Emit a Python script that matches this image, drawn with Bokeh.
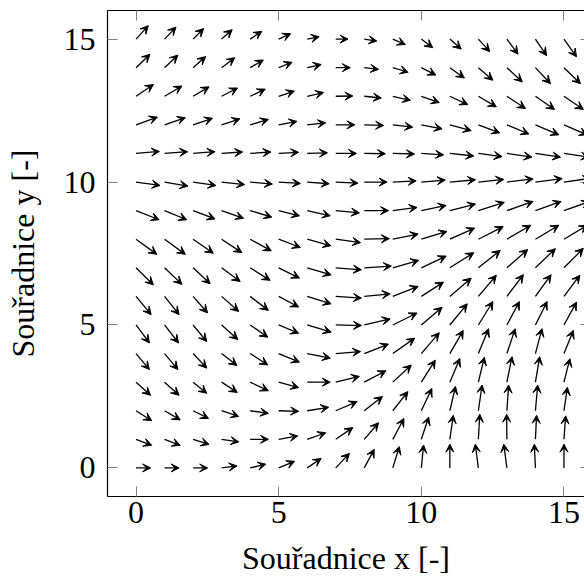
from bokeh.plotting import figure
from bokeh.models import (ColumnDataSource, Arrow, VeeHead, LinearAxis,
                          FixedTicker, Range1d)
from bokeh.embed import file_html
from bokeh.resources import INLINE

# grid of arrow origins
x_coords = list(range(16))
# rows listed from top (y=15) to bottom (y=0)
y_rows = [15, 14, 13, 12, 11, 10, 9, 8, 7, 6, 5, 4, 3, 2, 1, 0]

# x-components (one row per y in y_rows, columns x=0..15)
u_rows = [
    [0.43, 0.40, 0.37, 0.37, 0.41, 0.42, 0.42, 0.43, 0.44, 0.44, 0.40, 0.40, 0.40, 0.39, 0.39, 0.44],
    [0.49, 0.47, 0.44, 0.46, 0.46, 0.47, 0.49, 0.51, 0.50, 0.54, 0.51, 0.51, 0.51, 0.54, 0.53, 0.58],
    [0.61, 0.61, 0.56, 0.56, 0.53, 0.55, 0.57, 0.60, 0.60, 0.62, 0.63, 0.63, 0.63, 0.65, 0.67, 0.68],
    [0.75, 0.73, 0.68, 0.64, 0.64, 0.64, 0.65, 0.67, 0.68, 0.70, 0.73, 0.75, 0.75, 0.77, 0.82, 0.82],
    [0.82, 0.81, 0.77, 0.74, 0.73, 0.70, 0.71, 0.73, 0.74, 0.76, 0.78, 0.84, 0.83, 0.88, 0.88, 0.88],
    [0.84, 0.82, 0.80, 0.81, 0.78, 0.76, 0.77, 0.78, 0.80, 0.82, 0.84, 0.90, 0.89, 0.92, 0.94, 0.94],
    [0.81, 0.78, 0.77, 0.77, 0.76, 0.73, 0.81, 0.83, 0.85, 0.85, 0.87, 0.90, 0.91, 0.92, 0.90, 0.90],
    [0.73, 0.73, 0.71, 0.71, 0.74, 0.76, 0.83, 0.87, 0.88, 0.89, 0.90, 0.87, 0.87, 0.84, 0.82, 0.82],
    [0.61, 0.61, 0.60, 0.65, 0.70, 0.73, 0.84, 0.90, 0.95, 0.91, 0.87, 0.84, 0.77, 0.73, 0.70, 0.68],
    [0.53, 0.51, 0.51, 0.60, 0.64, 0.70, 0.84, 0.90, 0.91, 0.89, 0.78, 0.75, 0.63, 0.58, 0.55, 0.56],
    [0.47, 0.49, 0.48, 0.57, 0.62, 0.70, 0.84, 0.90, 0.91, 0.85, 0.73, 0.61, 0.51, 0.44, 0.41, 0.44],
    [0.47, 0.47, 0.48, 0.54, 0.62, 0.73, 0.81, 0.87, 0.85, 0.77, 0.63, 0.47, 0.36, 0.29, 0.23, 0.33],
    [0.51, 0.51, 0.48, 0.55, 0.64, 0.70, 0.81, 0.83, 0.76, 0.65, 0.49, 0.35, 0.21, 0.18, 0.15, 0.21],
    [0.55, 0.55, 0.54, 0.60, 0.64, 0.70, 0.75, 0.75, 0.64, 0.53, 0.37, 0.20, 0.13, 0.06, 0.08, 0.12],
    [0.55, 0.55, 0.56, 0.60, 0.64, 0.67, 0.65, 0.60, 0.50, 0.39, 0.26, 0.12, 0.05, -0.01, 0.04, 0.06],
    [0.51, 0.51, 0.51, 0.54, 0.55, 0.56, 0.49, 0.48, 0.35, 0.23, 0.08, 0.00, -0.11, -0.11, -0.04, 0.00],
]

# y-components
v_rows = [
    [0.47, 0.42, 0.37, 0.33, 0.27, 0.19, 0.08, 0.00, -0.07, -0.19, -0.30, -0.35, -0.44, -0.53, -0.58, -0.62],
    [0.47, 0.44, 0.39, 0.35, 0.27, 0.19, 0.11, 0.00, -0.06, -0.16, -0.26, -0.36, -0.44, -0.50, -0.56, -0.56],
    [0.41, 0.36, 0.33, 0.29, 0.25, 0.18, 0.13, 0.01, -0.06, -0.14, -0.22, -0.29, -0.37, -0.43, -0.46, -0.46],
    [0.27, 0.25, 0.23, 0.21, 0.19, 0.12, 0.07, 0.00, -0.02, -0.08, -0.14, -0.20, -0.28, -0.32, -0.35, -0.35],
    [0.07, 0.06, 0.06, 0.05, 0.05, 0.04, 0.02, 0.00, -0.01, -0.02, -0.05, -0.09, -0.11, -0.13, -0.13, -0.13],
    [-0.12, -0.14, -0.12, -0.09, -0.07, -0.05, -0.06, -0.04, 0.00, 0.04, 0.07, 0.08, 0.09, 0.11, 0.12, 0.13],
    [-0.32, -0.32, -0.29, -0.27, -0.23, -0.18, -0.18, -0.08, 0.00, 0.11, 0.18, 0.23, 0.29, 0.32, 0.32, 0.32],
    [-0.53, -0.53, -0.49, -0.47, -0.41, -0.29, -0.23, -0.12, 0.02, 0.18, 0.27, 0.39, 0.44, 0.49, 0.49, 0.49],
    [-0.60, -0.58, -0.56, -0.48, -0.44, -0.36, -0.25, -0.07, 0.06, 0.26, 0.41, 0.53, 0.61, 0.64, 0.67, 0.68],
    [-0.64, -0.64, -0.58, -0.53, -0.49, -0.37, -0.26, -0.06, 0.09, 0.35, 0.50, 0.64, 0.74, 0.76, 0.76, 0.74],
    [-0.63, -0.63, -0.58, -0.51, -0.43, -0.29, -0.25, -0.02, 0.21, 0.42, 0.62, 0.74, 0.82, 0.82, 0.82, 0.80],
    [-0.56, -0.56, -0.51, -0.42, -0.40, -0.30, -0.16, 0.07, 0.33, 0.54, 0.73, 0.81, 0.87, 0.87, 0.87, 0.81],
    [-0.46, -0.46, -0.39, -0.36, -0.30, -0.19, 0.00, 0.20, 0.40, 0.60, 0.77, 0.83, 0.87, 0.89, 0.89, 0.82],
    [-0.35, -0.32, -0.27, -0.20, -0.09, -0.02, 0.12, 0.32, 0.50, 0.67, 0.78, 0.85, 0.90, 0.90, 0.90, 0.82],
    [-0.21, -0.21, -0.18, -0.09, 0.00, 0.12, 0.23, 0.41, 0.58, 0.73, 0.78, 0.84, 0.88, 0.88, 0.84, 0.82],
    [0.00, 0.00, 0.00, 0.07, 0.13, 0.23, 0.33, 0.51, 0.65, 0.75, 0.80, 0.83, 0.83, 0.83, 0.83, 0.83],
]

tick_values = [0, 5, 10, 15]
x_title = "Souřadnice x [-]"
y_title = "Souřadnice y [-]"

x0, y0, x1, y1 = [], [], [], []
for yi, urow, vrow in zip(y_rows, u_rows, v_rows):
    for xi, u, v in zip(x_coords, urow, vrow):
        x0.append(xi)
        y0.append(yi)
        x1.append(xi + u)
        y1.append(yi + v)
src = ColumnDataSource(dict(x0=x0, y0=y0, x1=x1, y1=y1))

FONT = "Liberation Serif"
FS = "32px"

p = figure(width=584, height=581,
           x_range=Range1d(-1, 15.72), y_range=Range1d(-1, 16),
           output_backend="svg", toolbar_location=None,
           x_axis_location=None, y_axis_location=None,
           min_border_left=107, min_border_right=0,
           min_border_top=10, min_border_bottom=85)
p.grid.visible = False
p.outline_line_color = None
p.background_fill_color = "white"
p.border_fill_color = "white"


def style_axis(ax, labels=True, line=True, tick_in=10):
    ax.ticker = FixedTicker(ticks=tick_values)
    ax.axis_line_color = "black" if line else None
    ax.axis_line_width = 1.2
    ax.major_tick_in = tick_in
    ax.major_tick_out = 0
    ax.major_tick_line_color = "#808080"
    ax.major_tick_line_width = 1
    ax.minor_tick_line_color = None
    ax.major_label_text_font = FONT
    ax.axis_label_text_font = FONT
    ax.axis_label_text_font_size = FS
    ax.axis_label_text_font_style = "normal"
    ax.axis_label_text_color = "black"
    if labels:
        ax.major_label_text_font_size = FS
        ax.major_label_text_color = "black"
    else:
        # mirrored frame side: tick marks only, no tick texts
        ax.major_label_text_font_size = "0px"
        ax.major_label_text_color = None
        ax.major_label_standoff = 0


bottom = LinearAxis(axis_label=x_title)
style_axis(bottom)
bottom.major_label_standoff = 5
bottom.axis_label_standoff = 14
left = LinearAxis(axis_label=y_title)
style_axis(left)
left.major_label_standoff = 12
left.axis_label_standoff = 20
top = LinearAxis()
style_axis(top, labels=False)
right = LinearAxis()
style_axis(right, labels=False, line=False, tick_in=4)

p.add_layout(bottom, "below")
p.add_layout(left, "left")
p.add_layout(top, "above")
p.add_layout(right, "right")

arrows = Arrow(end=VeeHead(size=8, fill_color="black", line_color="black", line_width=1),
               x_start="x0", y_start="y0", x_end="x1", y_end="y1",
               source=src, line_color="black", line_width=1.3)
p.add_layout(arrows)

open("out.html", "w").write(file_html(p, INLINE))
